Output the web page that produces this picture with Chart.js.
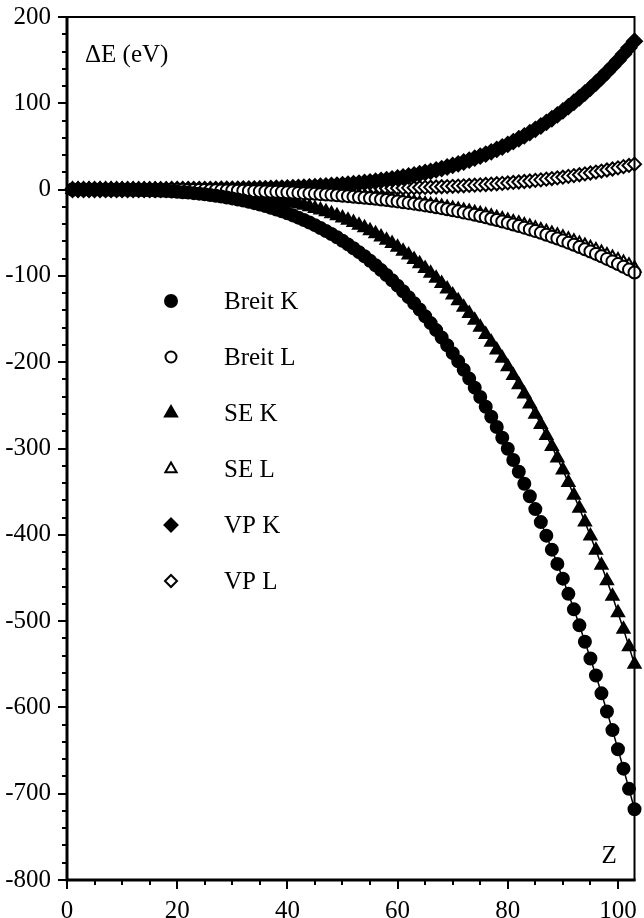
<!DOCTYPE html>
<html>
<head>
<meta charset="utf-8">
<title>Delta E vs Z</title>
<script src="https://cdn.jsdelivr.net/npm/chart.js@4.4.1/dist/chart.umd.min.js"></script>
<style>
  html, body { margin: 0; padding: 0; background: #fff; }
  #wrap { width: 644px; height: 918px; }
</style>
</head>
<body>
<div id="wrap"><canvas id="deltaChart" width="644" height="918"></canvas></div>
<script>
// nuclear charge Z
const zValues = [
  1, 2, 3, 4, 5, 6, 7, 8, 9, 10, 11, 12, 13, 14, 15, 16, 17, 18, 19, 20,
  21, 22, 23, 24, 25, 26, 27, 28, 29, 30, 31, 32, 33, 34, 35, 36, 37, 38, 39, 40,
  41, 42, 43, 44, 45, 46, 47, 48, 49, 50, 51, 52, 53, 54, 55, 56, 57, 58, 59, 60,
  61, 62, 63, 64, 65, 66, 67, 68, 69, 70, 71, 72, 73, 74, 75, 76, 77, 78, 79, 80,
  81, 82, 83, 84, 85, 86, 87, 88, 89, 90, 91, 92, 93, 94, 95, 96, 97, 98, 99, 100,
  101, 102, 103
];

// energy shifts in eV
const breitK = [
  0, 0, 0, 0, 0, 0, -0.1, -0.1, -0.2, -0.2,
  -0.3, -0.4, -0.6, -0.7, -0.9, -1.2, -1.4, -1.7, -2.1, -2.5,
  -3.0, -3.5, -4.1, -4.7, -5.4, -6.2, -7.1, -8.0, -9.1, -10.2,
  -11.4, -12.7, -14.2, -15.7, -17.3, -19.1, -21.0, -23.0, -25.2, -27.5,
  -29.9, -32.5, -35.3, -38.2, -41.2, -44.5, -47.9, -51.5, -55.3, -59.3,
  -63.5, -67.9, -72.5, -77.3, -82.4, -87.7, -93.3, -99.0, -105.0, -111.3,
  -117.8, -124.6, -131.7, -139.0, -146.7, -154.7, -162.8, -171.4, -180.3, -189.5,
  -199.0, -208.8, -219.0, -229.5, -240.4, -251.6, -263.2, -275.1, -287.5, -300.3,
  -313.4, -327.0, -340.9, -355.3, -370.2, -385.3, -401.0, -417.2, -433.7, -450.8,
  -468.4, -486.4, -504.9, -523.9, -543.3, -563.1, -583.7, -604.8, -626.3, -648.5,
  -671.0, -694.4, -718.0
];
const breitL = [
  0, 0, 0, 0, 0, 0, 0, 0, 0, 0,
  0, 0, -0.1, -0.1, -0.1, -0.1, -0.1, -0.2, -0.2, -0.3,
  -0.3, -0.4, -0.4, -0.5, -0.6, -0.7, -0.8, -0.9, -1.0, -1.1,
  -1.3, -1.4, -1.6, -1.8, -2.0, -2.2, -2.4, -2.6, -2.9, -3.2,
  -3.5, -3.8, -4.1, -4.5, -4.9, -5.3, -5.7, -6.1, -6.6, -7.1,
  -7.6, -8.2, -8.8, -9.4, -10.0, -10.7, -11.4, -12.1, -12.9, -13.7,
  -14.6, -15.4, -16.3, -17.3, -18.3, -19.3, -20.4, -21.5, -22.7, -23.9,
  -25.2, -26.5, -27.8, -29.2, -30.6, -32.1, -33.7, -35.3, -36.9, -38.6,
  -40.4, -42.2, -44.1, -46.1, -48.1, -50.1, -52.3, -54.5, -56.7, -59.1,
  -61.5, -63.9, -66.5, -69.1, -71.8, -74.5, -77.3, -80.3, -83.2, -86.3,
  -89.5, -92.7, -96.0
];
const seK = [
  0, 0, 0, 0, 0, 0, 0, 0, 0, -0.1,
  -0.1, -0.1, -0.2, -0.2, -0.3, -0.4, -0.5, -0.6, -0.8, -0.9,
  -1.1, -1.3, -1.6, -1.9, -2.2, -2.6, -3.0, -3.4, -3.9, -4.5,
  -5.1, -5.8, -6.5, -7.3, -8.2, -9.1, -10.1, -11.3, -12.5, -13.7,
  -15.1, -16.6, -18.2, -19.9, -21.8, -23.7, -25.8, -28.0, -30.4, -32.8,
  -35.5, -38.2, -41.2, -44.3, -47.6, -51.1, -54.8, -58.6, -62.6, -66.8,
  -71.3, -75.9, -80.9, -86.0, -91.4, -97.0, -102.8, -108.9, -115.3, -122.0,
  -128.9, -136.2, -143.7, -151.5, -159.6, -168.0, -176.9, -186.0, -195.4, -205.3,
  -215.4, -226.1, -236.9, -248.3, -260.2, -272.1, -284.8, -297.7, -311.1, -325.0,
  -339.4, -354.1, -369.3, -385.1, -401.3, -417.9, -435.3, -453.1, -471.3, -490.2,
  -509.5, -529.6, -550.0
];
const seL = [
  0, 0, 0, 0, 0, 0, 0, 0, 0, 0,
  0, 0, 0, -0.1, -0.1, -0.1, -0.1, -0.1, -0.2, -0.2,
  -0.3, -0.3, -0.4, -0.4, -0.5, -0.6, -0.6, -0.7, -0.8, -0.9,
  -1.1, -1.2, -1.3, -1.5, -1.7, -1.9, -2.1, -2.3, -2.5, -2.8,
  -3.0, -3.3, -3.6, -3.9, -4.2, -4.6, -5.0, -5.4, -5.8, -6.3,
  -6.8, -7.3, -7.8, -8.3, -8.9, -9.5, -10.2, -10.9, -11.6, -12.3,
  -13.1, -13.9, -14.8, -15.7, -16.6, -17.5, -18.5, -19.6, -20.7, -21.8,
  -23.0, -24.2, -25.5, -26.8, -28.1, -29.5, -31.0, -32.5, -34.1, -35.7,
  -37.4, -39.1, -40.9, -42.8, -44.7, -46.7, -48.7, -50.8, -53.0, -55.2,
  -57.6, -59.9, -62.4, -64.9, -67.5, -70.1, -72.9, -75.7, -78.6, -81.6,
  -84.6, -87.8, -91.0
];
const vpK = [
  0, 0, 0, 0, 0, 0, 0, 0, 0, 0,
  0, 0, 0, 0, 0, 0, 0, 0, 0.1, 0.1,
  0.1, 0.1, 0.1, 0.2, 0.2, 0.3, 0.3, 0.4, 0.4, 0.5,
  0.6, 0.7, 0.8, 0.9, 1.1, 1.2, 1.4, 1.6, 1.8, 2.0,
  2.3, 2.5, 2.8, 3.2, 3.5, 3.9, 4.3, 4.8, 5.2, 5.8,
  6.3, 6.9, 7.6, 8.3, 9.0, 9.8, 10.7, 11.6, 12.5, 13.6,
  14.7, 15.8, 17.1, 18.4, 19.8, 21.2, 22.8, 24.4, 26.2, 28.0,
  29.9, 32.0, 34.1, 36.4, 38.7, 41.2, 43.8, 46.6, 49.4, 52.4,
  55.6, 58.9, 62.3, 66.0, 69.8, 73.7, 77.8, 82.1, 86.5, 91.2,
  96.1, 101.2, 106.4, 111.9, 117.6, 123.5, 129.7, 136.2, 142.8, 149.7,
  156.9, 164.3, 172.0
];
const vpL = [
  0, 0, 0, 0, 0, 0, 0, 0, 0, 0,
  0, 0, 0, 0, 0, 0, 0, 0, 0, 0,
  0, 0, 0, 0, 0, 0, 0, 0, 0, 0,
  0.1, 0.1, 0.1, 0.1, 0.1, 0.1, 0.1, 0.1, 0.2, 0.2,
  0.2, 0.3, 0.3, 0.3, 0.4, 0.4, 0.5, 0.5, 0.6, 0.6,
  0.7, 0.8, 0.9, 1.0, 1.1, 1.2, 1.3, 1.4, 1.5, 1.7,
  1.8, 2.0, 2.2, 2.4, 2.6, 2.8, 3.0, 3.3, 3.5, 3.8,
  4.1, 4.4, 4.8, 5.1, 5.5, 5.9, 6.3, 6.8, 7.2, 7.7,
  8.3, 8.8, 9.4, 10.0, 10.7, 11.3, 12.1, 12.8, 13.6, 14.4,
  15.3, 16.2, 17.2, 18.2, 19.2, 20.3, 21.5, 22.7, 23.9, 25.2,
  26.6, 28.0, 29.5
];

const seriesNames = ['Breit K', 'Breit L', 'SE K', 'SE L', 'VP K', 'VP L'];

// axis ticks
const xMajorTicks = [0, 20, 40, 60, 80, 100];
const xMinorTicks = [5, 10, 15, 25, 30, 35, 45, 50, 55, 65, 70, 75, 85, 90, 95];
const yMajorTicks = [-800, -700, -600, -500, -400, -300, -200, -100, 0, 100, 200];
const yMinorTicks = [
  -780, -760, -740, -720, -680, -660, -640, -620, -580, -560, -540, -520,
  -480, -460, -440, -420, -380, -360, -340, -320, -280, -260, -240, -220,
  -180, -160, -140, -120, -80, -60, -40, -20, 20, 40, 60, 80, 120, 140, 160, 180
];

const FONT = 'Liberation Serif';

// marker look per series: filled for K shell, open for L shell
const markers = [
  { style: 'circle', radius: 6, fill: '#000', key: 6 },
  { style: 'circle', radius: 6, fill: '#fff', key: 5.5 },
  { style: 'triangle', radius: 7, fill: '#000', key: 7 },
  { style: 'triangle', radius: 7, fill: '#fff', key: 6.5 },
  { style: 'rectRot', radius: 7.5, fill: '#000', key: 6.5 },
  { style: 'rectRot', radius: 6.5, fill: '#fff', key: 6 }
];

const seriesValues = [breitK, breitL, seK, seL, vpK, vpL];

const datasets = seriesValues.map((vals, i) => ({
  label: seriesNames[i],
  data: zValues.map((z, j) => ({ x: z, y: vals[j] })),
  showLine: true,
  borderColor: '#000',
  borderWidth: 1.5,
  pointStyle: markers[i].style,
  pointRadius: markers[i].radius,
  pointBackgroundColor: markers[i].fill,
  pointBorderColor: '#000',
  pointBorderWidth: 2,
  clip: false
}));

// own marker drawing for the in-plot key
function drawMarker(ctx, style, x, y, r) {
  ctx.beginPath();
  if (style === 'circle') {
    ctx.arc(x, y, r, 0, Math.PI * 2);
  } else if (style === 'triangle') {
    ctx.moveTo(x, y - r);
    ctx.lineTo(x + r * 0.866, y + r * 0.5);
    ctx.lineTo(x - r * 0.866, y + r * 0.5);
  } else {
    ctx.moveTo(x, y - r);
    ctx.lineTo(x + r, y);
    ctx.lineTo(x, y + r);
    ctx.lineTo(x - r, y);
  }
  ctx.closePath();
  ctx.fill();
  ctx.stroke();
}

const framePlugin = {
  id: 'framePlugin',
  afterDatasetsDraw(chart) {
    const { ctx, chartArea: a, scales: { x, y } } = chart;
    ctx.save();
    ctx.strokeStyle = '#000';

    // box
    ctx.lineWidth = 2;
    ctx.strokeRect(a.left, a.top, a.right - a.left, a.bottom - a.top);
    ctx.lineWidth = 3;
    ctx.beginPath();
    ctx.moveTo(a.left, a.top - 1);
    ctx.lineTo(a.left, a.bottom);
    ctx.lineTo(a.right + 1, a.bottom);
    ctx.stroke();

    // outward ticks
    ctx.lineWidth = 2;
    ctx.beginPath();
    xMajorTicks.forEach(v => {
      const px = Math.round(x.getPixelForValue(v));
      ctx.moveTo(px, a.bottom); ctx.lineTo(px, a.bottom + 9);
    });
    xMinorTicks.forEach(v => {
      const px = Math.round(x.getPixelForValue(v));
      ctx.moveTo(px, a.bottom); ctx.lineTo(px, a.bottom + 5);
    });
    yMajorTicks.forEach(v => {
      const py = Math.round(y.getPixelForValue(v));
      ctx.moveTo(a.left, py); ctx.lineTo(a.left - 9, py);
    });
    yMinorTicks.forEach(v => {
      const py = Math.round(y.getPixelForValue(v));
      ctx.moveTo(a.left, py); ctx.lineTo(a.left - 5, py);
    });
    ctx.stroke();

    // axis titles inside the box
    ctx.fillStyle = '#000';
    ctx.font = '25px "' + FONT + '"';
    ctx.textBaseline = 'alphabetic';
    ctx.textAlign = 'left';
    ctx.fillText('\u0394E (eV)', a.left + 18, a.top + 45);
    ctx.fillText('Z', a.right - 33, a.bottom - 17);

    // key
    const keyX = 171, textX = 224, firstRow = 301, rowGap = 56;
    ctx.lineWidth = 2;
    ctx.textBaseline = 'middle';
    seriesNames.forEach((name, i) => {
      const ry = firstRow + i * rowGap;
      ctx.fillStyle = markers[i].fill;
      drawMarker(ctx, markers[i].style, keyX, ry, markers[i].key);
      ctx.fillStyle = '#000';
      ctx.fillText(name, textX, ry + 1);
    });
    ctx.restore();
  }
};

const ctx = document.getElementById('deltaChart').getContext('2d');
const deltaChart = new Chart(ctx, {
  type: 'scatter',
  data: { datasets: datasets },
  options: {
    responsive: false,
    animation: false,
    devicePixelRatio: 1,
    layout: { padding: { top: 17, right: 3, left: 0, bottom: 0 } },
    plugins: {
      legend: { display: false },
      tooltip: { enabled: false }
    },
    scales: {
      x: {
        type: 'linear',
        min: 0,
        max: 103,
        grid: { display: false },
        border: { display: false },
        ticks: {
          color: '#000',
          font: { family: FONT, size: 25 },
          padding: 8,
          maxRotation: 0,
          includeBounds: false
        },
        afterBuildTicks: s => { s.ticks = xMajorTicks.map(v => ({ value: v })); },
        afterFit: s => { s.height = 38; s.paddingLeft = 0; s.paddingRight = 0; }
      },
      y: {
        type: 'linear',
        min: -800,
        max: 200,
        grid: { display: false },
        border: { display: false },
        ticks: {
          color: '#000',
          font: { family: FONT, size: 25 },
          padding: 8,
          includeBounds: false
        },
        afterBuildTicks: s => { s.ticks = yMajorTicks.map(v => ({ value: v })); },
        afterFit: s => { s.width = 67; s.paddingTop = 0; s.paddingBottom = 0; }
      }
    }
  },
  plugins: [framePlugin]
});
</script>
</body>
</html>
